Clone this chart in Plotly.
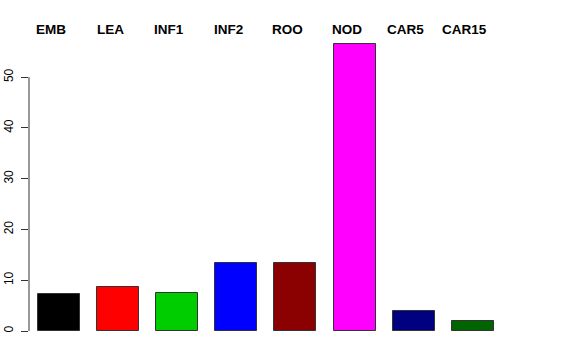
import plotly.graph_objects as go

categories = ["EMB", "LEA", "INF1", "INF2", "ROO", "NOD", "CAR5", "CAR15"]
values = [7.2, 8.7, 7.5, 13.3, 13.3, 56.6, 4.0, 1.9]
colors = ["#000000", "#FF0000", "#00CD00", "#0000FF", "#8B0000", "#FF00FF", "#000080", "#006400"]
y_ticks = [0, 10, 20, 30, 40, 50]

x_idx = list(range(len(categories)))

fig = go.Figure()
fig.add_trace(go.Bar(
    x=x_idx, y=values, width=0.71,
    marker=dict(color=colors, line=dict(color="#333333", width=1)),
    hoverinfo="skip",
))

for i, c in enumerate(categories):
    fig.add_annotation(x=i, y=1.008, xref="x", yref="paper", text="<b>%s</b>" % c,
                       showarrow=False, xanchor="center", yanchor="middle", xshift=-8,
                       font=dict(family="Liberation Sans, Arial, sans-serif", size=13.5, color="black"))

# R-style y axis line spanning only the tick range
fig.add_shape(type="line", xref="paper", yref="y", x0=0, x1=0, y0=y_ticks[0], y1=y_ticks[-1],
              line=dict(color="#333333", width=1))

fig.update_layout(
    width=576, height=360,
    margin=dict(l=29, r=56, t=32, b=29, autoexpand=False),
    plot_bgcolor="white", paper_bgcolor="white",
    showlegend=False,
    bargap=0,
    xaxis=dict(range=[-0.508, 7.8], showgrid=False, zeroline=False, showline=False,
               showticklabels=False, ticks="", automargin=False),
    yaxis=dict(range=[0, 58.9], showgrid=False, zeroline=False, showline=False,
               automargin=False,
               tickvals=y_ticks, ticktext=[str(v) for v in y_ticks],
               ticks="outside", ticklen=7, tickcolor="#333333", tickwidth=1,
               tickangle=-90, ticklabelstandoff=3,
               tickfont=dict(family="Liberation Sans, Arial, sans-serif", size=12, color="black")),
)

fig.write_html("out.html")
